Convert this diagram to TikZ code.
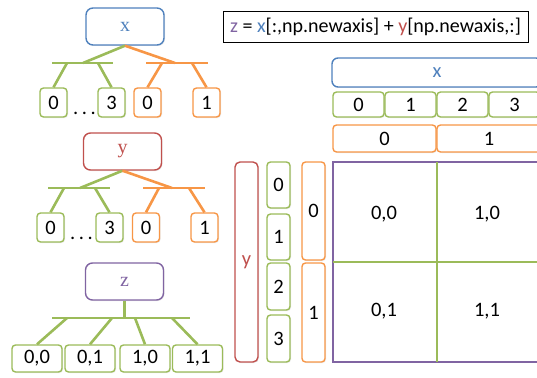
\documentclass[tikz,border=0pt]{standalone}
\usepackage{fontspec}
\setmainfont{Carlito}
\newfontfamily\serifF{Liberation Serif}
\usetikzlibrary{shadows}
\definecolor{oblue}{HTML}{4F81BD}
\definecolor{ored}{HTML}{C0504D}
\definecolor{ogreen}{HTML}{9BBB59}
\definecolor{oorange}{HTML}{F79646}
\definecolor{opurple}{HTML}{8064A2}
\begin{document}
\begin{tikzpicture}[x=1pt,y=-1pt,
  bx/.style={draw, fill=white, line width=1.4pt, inner sep=0pt,
    font=\fontsize{20.5}{20.5}\selectfont,
    drop shadow={opacity=0.18, shadow xshift=1pt, shadow yshift=-1pt}},
  gbox/.style={bx, draw=ogreen, rounded corners=3.5pt},
  obox/.style={bx, draw=oorange, rounded corners=3.5pt},
  rootbox/.style={bx, rounded corners=7pt, minimum width=78pt, minimum height=37pt,
    font=\serifF\fontsize{20}{20}\selectfont},
  leaf/.style={minimum width=27pt, minimum height=29pt},
  zleaf/.style={gbox, minimum width=50pt, minimum height=27pt},
  gline/.style={draw=ogreen, line width=2.6pt},
  oline/.style={draw=oorange, line width=2.6pt},
  dots/.style={font=\fontsize{20.5}{20.5}\selectfont, inner sep=0pt},
  lbl/.style={font=\fontsize{20.5}{20.5}\selectfont, inner sep=0pt},
  gridline/.style={draw=ogreen, line width=1.6pt}
]
\useasboundingbox (0,0) rectangle (537,377);
\clip (0,0) rectangle (537,377);

% ---------- tree x ----------
\node[rootbox, draw=oblue, text=oblue] (rx) at (125,26.5) {x};
\node[gbox,leaf] (xa) at (53.5,102.5) {0};
\node[gbox,leaf] (xb) at (111.5,102.5) {3};
\node[obox,leaf] (xc) at (147.5,102.5) {0};
\node[obox,leaf] (xd) at (206.5,102.5) {1};
\node[dots, anchor=base] (xdots) at (84.5,114) {.\hspace{3.5pt}.\hspace{3.5pt}.};
\coordinate (xgL) at (52,63);  \coordinate (xgR) at (113,63);
\coordinate (xoL) at (146,63); \coordinate (xoR) at (208,63);
\coordinate (xgM) at (83,63);  \coordinate (xoM) at (175,63);
\coordinate (xg1) at (67,63);  \coordinate (xg2) at (98,63);
\coordinate (xo1) at (162,63); \coordinate (xo2) at (192,63);
\draw[gline] (xgL) -- (xgR);
\draw[oline] (xoL) -- (xoR);
\draw[gline] (rx.south) -- (xgM);
\draw[oline] (rx.south) -- (xoM);
\draw[gline] (xg1) -- (xa.north);
\draw[gline] (xg2) -- (xb.north);
\draw[oline] (xo1) -- (xc.north);
\draw[oline] (xo2) -- (xd.north);

% ---------- tree y ----------
\node[rootbox, draw=ored, text=ored] (ry) at (122.5,151.5) {y};
\node[gbox,leaf] (ya) at (50.5,227.5) {0};
\node[gbox,leaf] (yb) at (109.5,227.5) {3};
\node[obox,leaf] (yc) at (146,227.5) {0};
\node[obox,leaf] (yd) at (204.5,227.5) {1};
\node[dots, anchor=base] (ydots) at (81.5,239) {.\hspace{3.5pt}.\hspace{3.5pt}.};
\coordinate (ygL) at (48,188);  \coordinate (ygR) at (110,188);
\coordinate (yoL) at (143,188); \coordinate (yoR) at (205,188);
\coordinate (ygM) at (80,188);  \coordinate (yoM) at (172,188);
\coordinate (yg1) at (64,188);  \coordinate (yg2) at (95,188);
\coordinate (yo1) at (159,188); \coordinate (yo2) at (189,188);
\draw[gline] (ygL) -- (ygR);
\draw[oline] (yoL) -- (yoR);
\draw[gline] (ry.south) -- (ygM);
\draw[oline] (ry.south) -- (yoM);
\draw[gline] (yg1) -- (ya.north);
\draw[gline] (yg2) -- (yb.north);
\draw[oline] (yo1) -- (yc.north);
\draw[oline] (yo2) -- (yd.north);

% ---------- tree z ----------
\node[rootbox, draw=opurple, text=opurple] (rz) at (124.5,281.5) {z};
\node[zleaf] (za) at (37,358.5) {0,0};
\node[zleaf] (zb) at (90,358.5) {0,1};
\node[zleaf] (zc) at (145,358.5) {1,0};
\node[zleaf] (zd) at (197.5,358.5) {1,1};
\coordinate (zL) at (52,318); \coordinate (zR) at (190,318);
\coordinate (zM) at (124.5,318);
\coordinate (z1) at (67,318);  \coordinate (z2) at (112,318);
\coordinate (z3) at (135,318); \coordinate (z4) at (172,318);
\draw[gline] (zL) -- (zR);
\draw[gline] (rz.south) -- (zM);
\draw[gline] (z1) -- (za.north);
\draw[gline] (z2) -- (zb.north);
\draw[gline] (z3) -- (zc.north);
\draw[gline] (z4) -- (zd.north);

% ---------- formula ----------
\node[draw=black, line width=0.8pt, fill=white, minimum width=305pt, minimum height=31pt,
  inner sep=0pt, font=\fontsize{20}{20}\selectfont] (formula) at (375.5,26.5)
  {\textcolor{opurple}{z} = \textcolor{oblue}{x}[:,np.newaxis] + \textcolor{ored}{y}[np.newaxis,:]};

% ---------- right diagram ----------
\node[bx, draw=oblue, text=oblue, rounded corners=6pt, minimum width=210pt, minimum height=29pt] (bigx) at (437,72.5) {x};
\node[gbox, minimum width=51pt, minimum height=25pt] (ra) at (358.5,104.5) {0};
\node[gbox, minimum width=51pt, minimum height=25pt] (rb) at (410.5,104.5) {1};
\node[gbox, minimum width=51pt, minimum height=25pt] (rc) at (462.5,104.5) {2};
\node[gbox, minimum width=51pt, minimum height=25pt] (rd) at (514.5,104.5) {3};
\node[obox, minimum width=103pt, minimum height=27pt] (re) at (384.5,138.5) {0};
\node[obox, minimum width=104pt, minimum height=27pt] (rf) at (489,138.5) {1};

\node[bx, draw=ored, text=ored, rounded corners=5pt, minimum width=23pt, minimum height=200pt] (cy) at (246.5,262) {y};
\node[gbox, minimum width=23pt, minimum height=46pt] (c0) at (278.5,185) {0};
\node[gbox, minimum width=23pt, minimum height=46pt] (c1) at (278.5,237) {1};
\node[gbox, minimum width=23pt, minimum height=47pt] (c2) at (278.5,286.5) {2};
\node[gbox, minimum width=23pt, minimum height=47pt] (c3) at (278.5,338.5) {3};
\node[obox, minimum width=23pt, minimum height=98pt] (d0) at (313.5,211) {0};
\node[obox, minimum width=23pt, minimum height=99pt] (d1) at (313.5,312.5) {1};

\node[draw=opurple, fill=white, line width=1.4pt, minimum width=230pt, minimum height=200pt, inner sep=0pt,
  drop shadow={opacity=0.18, shadow xshift=1pt, shadow yshift=-1pt}] (grid) at (448,262) {};
\coordinate (vt) at (437,162); \coordinate (vb) at (437,362);
\coordinate (hl) at (333,262); \coordinate (hr) at (563,262);
\draw[gridline] (vt) -- (vb);
\draw[gridline] (hl) -- (hr);
\node[lbl] (g00) at (384,214) {0,0};
\node[lbl] (g10) at (487,214) {1,0};
\node[lbl] (g01) at (384,311) {0,1};
\node[lbl] (g11) at (487,311) {1,1};
\end{tikzpicture}
\end{document}
